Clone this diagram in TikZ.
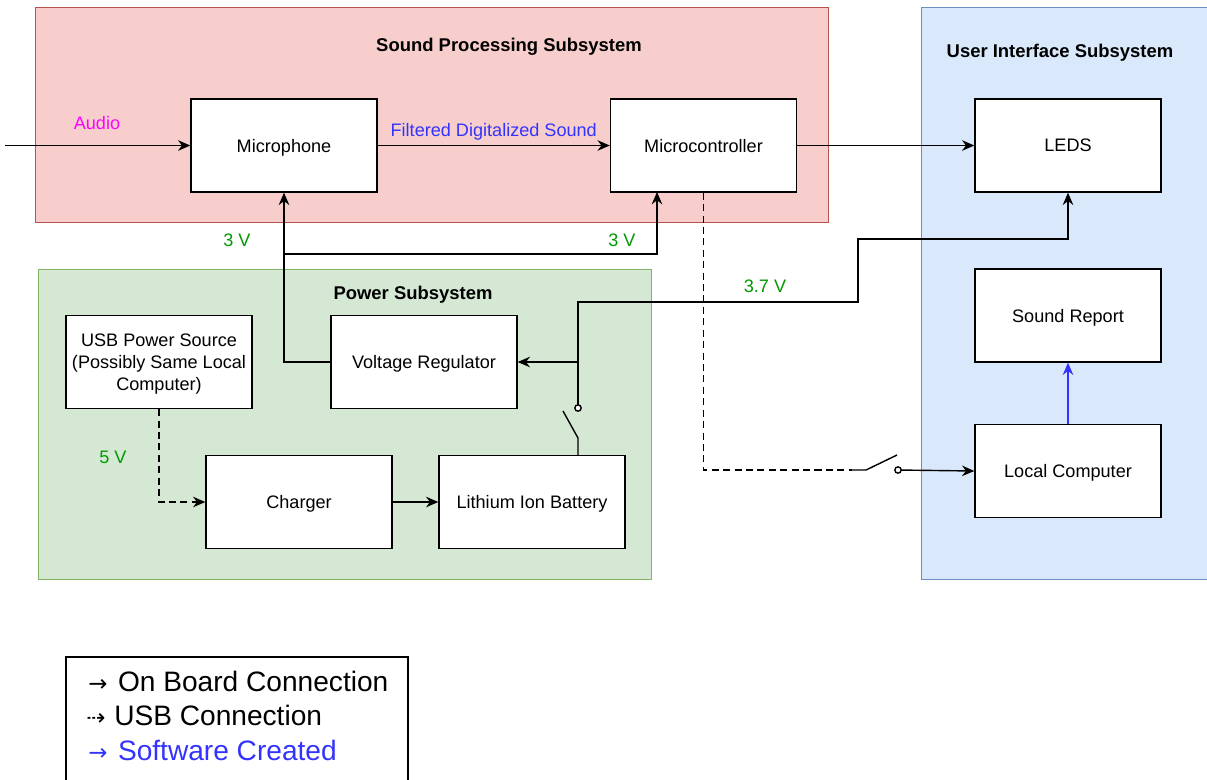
\documentclass[tikz,border=0pt]{standalone}
\usepackage{fontspec}
\setmainfont{Liberation Sans}
\newfontfamily\arrowfont{DejaVu Sans}
\usepackage{tikz}
\usetikzlibrary{arrows.meta}
\definecolor{soundfill}{HTML}{F8CECC}
\definecolor{soundline}{HTML}{B85450}
\definecolor{uifill}{HTML}{DAE8FC}
\definecolor{uiline}{HTML}{6C8EBF}
\definecolor{powerfill}{HTML}{D5E8D4}
\definecolor{powerline}{HTML}{82B366}
\definecolor{voltgreen}{HTML}{009900}
\definecolor{swblue}{HTML}{3333FF}
\definecolor{audiopink}{HTML}{FF00FF}

\begin{document}
\begin{tikzpicture}[x=0.02cm, y=-0.02cm, >={Stealth[length=7pt,width=6pt]},
    block/.style={draw, thick, fill=white, minimum width=3.72cm, minimum height=1.86cm, align=center, text depth=0pt, font=\fontsize{10.3}{12.5}\selectfont},
    lbl/.style={font=\fontsize{10.3}{12.5}\selectfont},
    title/.style={font=\bfseries\fontsize{10.5}{12.5}\selectfont},
    legend/.style={anchor=west, inner sep=0pt, font=\fontsize{16}{18}\selectfont}]
        \useasboundingbox (0,0) rectangle (1207,779);
        % subsystems
        \filldraw[fill=soundfill, draw=soundline] (35,7) rectangle (828,222);
        \filldraw[fill=uifill, draw=uiline] (921,7) rectangle (1215,579);
        \filldraw[fill=powerfill, draw=powerline] (38,269) rectangle (651,579);
        \node[title] (soundtitle) at (509,47) {Sound Processing Subsystem};
        \node[title] (uititle) at (1060,53) {User Interface Subsystem};
        \node[title] (powertitle) at (413,295) {Power Subsystem};

        % blocks
        \node[block] (mic) at (284,145.5) {Microphone};
        \node[block] (mcu) at (703.5,145.5) {Microcontroller};
        \node[block] (leds) at (1068,145.5) {LEDS};
        \node[block] (report) at (1068,315.5) {Sound Report};
        \node[block] (localpc) at (1068,471) {Local Computer};
        \node[block] (usbsrc) at (159,362) {USB Power Source\\(Possibly Same Local\\Computer)};
        \node[block] (vreg) at (424,362) {Voltage Regulator};
        \node[block] (charger) at (299,502) {Charger};
        \node[block] (battery) at (532,502) {Lithium Ion Battery};

        % sound path
        \coordinate (audioin) at (5,145.5);
        \draw[thick, ->] (audioin) -- (mic);
        \node[lbl, text=audiopink] (audiolbl) at (97,123) {Audio};
        \draw[thick, ->] (mic) -- node[lbl, text=swblue, above=-1pt] (soundlbl) {Filtered Digitalized Sound} (mcu);
        \draw[thick, ->] (mcu) -- (leds);

        % 3 V supply
        \coordinate (j3v) at (284,254);
        \coordinate (mcuin) at (657,192);
        \draw[thick, ->] (vreg.west) -| (mic.south);
        \draw[thick, ->] (j3v) -| (mcuin);
        \node[lbl, text=voltgreen] (v3a) at (237,240) {3 V};
        \node[lbl, text=voltgreen] (v3b) at (622,240) {3 V};

        % battery switch and 3.7 V rail
        \coordinate (swhinge) at (578,438);
        \coordinate (swcontact) at (578,408);
        \coordinate (vrtap) at (578,362);
        \coordinate (railA) at (578,302);
        \coordinate (railB) at (858,302);
        \coordinate (railC) at (858,239);
        \draw[thick] (battery.north -| swhinge) -- (swhinge) -- ++(-15,-27);
        \draw[thick, ->] (swcontact) -- (railA) -- (railB) -- (railC) -| (leds.south);
        \draw[thick, ->] (vrtap) -- (vreg.east);
        \filldraw[thick, fill=white] (swcontact) circle (1.8pt);
        \node[lbl, text=voltgreen] (v37) at (765,286) {3.7 V};

        % usb link to local computer
        \coordinate (sw2hinge) at (852,470);
        \coordinate (sw2contact) at (898,470);
        \draw[thick, dash pattern=on 4pt off 2.5pt] (mcu.south) |- (sw2hinge);
        \draw[thick] (sw2hinge) -- ++(14,0) -- ++(31,-15);
        \draw[thick, ->] (sw2contact) -- (localpc.west);
        \filldraw[thick, fill=white] (sw2contact) circle (1.8pt);
        \draw[thick, ->, swblue] (localpc) -- (report);

        % charging
        \draw[thick, ->, dash pattern=on 4pt off 2.5pt] (usbsrc) |- (charger);
        \node[lbl, text=voltgreen] (v5) at (113,457) {5 V};
        \draw[thick, ->] (charger) -- (battery);

        % legend
        \draw[thick] (66,657) rectangle (408,800);
        \node[legend] (leg1) at (88,681) {{\arrowfont\fontsize{13}{16}\selectfont →}\hspace{6pt}On Board Connection};
        \node[legend] (leg2) at (86,715) {{\arrowfont\fontsize{13}{16}\selectfont ⇢}\hspace{5pt}USB Connection};
        \node[legend, text=swblue] (leg3) at (88,750) {{\arrowfont\fontsize{13}{16}\selectfont →}\hspace{6pt}Software Created};
    \end{tikzpicture}
\end{document}
